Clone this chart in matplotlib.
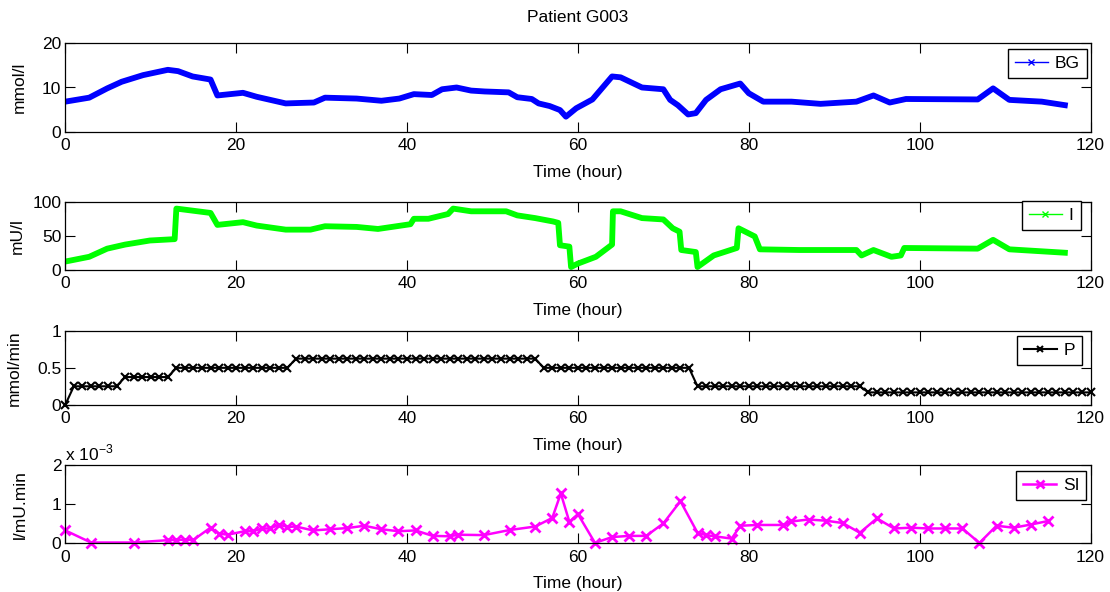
import matplotlib
matplotlib.use("Agg")
import matplotlib.pyplot as plt
from matplotlib.lines import Line2D

plt.rcParams["font.family"] = ["Liberation Sans", "DejaVu Sans"]
plt.rcParams["font.size"] = 12.5

# blood glucose (mmol/l)
bg_t = [0, 2.8, 4.9, 6.6, 9.1, 12.0, 13.2, 14.9, 17.0, 17.8, 20.8, 22.4, 25.8, 29.1,
        30.4, 34.1, 37.0, 39.1, 40.8, 42.9, 44.1, 45.8, 47.5, 49.1, 51.9, 52.9, 54.6,
        55.4, 56.7, 57.9, 58.6, 59.8, 61.7, 64.0, 65.0, 67.5, 70.0, 70.8, 71.7, 72.9,
        73.8, 75.0, 76.7, 79.0, 80.0, 81.7, 85.0, 88.4, 92.6, 94.6, 96.5, 98.4, 106.8,
        108.6, 110.5, 114.3, 117.0]
bg = [6.8, 7.7, 9.8, 11.3, 12.8, 14.0, 13.7, 12.5, 11.8, 8.2, 8.8, 7.9, 6.4, 6.6,
      7.7, 7.5, 7.0, 7.5, 8.5, 8.3, 9.6, 10.0, 9.3, 9.1, 8.9, 7.8, 7.4,
      6.4, 5.8, 4.9, 3.4, 5.3, 7.3, 12.5, 12.3, 10.0, 9.6, 7.2, 6.0, 3.9,
      4.2, 7.2, 9.6, 10.9, 8.7, 6.8, 6.8, 6.3, 6.8, 8.2, 6.6, 7.4, 7.3,
      9.8, 7.2, 6.8, 6.0]

# plasma insulin (mU/l)
ins_t = [0, 2.8, 4.9, 7.0, 9.9, 12.8, 13.0, 14.5, 17.0, 17.8, 20.8, 22.4, 25.8, 28.7,
         30.4, 34.1, 36.6, 40.4, 40.8, 42.5, 44.8, 45.4, 47.5, 51.6, 52.9, 55.0, 57.1,
         57.7, 57.9, 59.0, 59.2, 60.0, 62.1, 64.0, 64.1, 65.0, 67.5, 70.0, 71.1, 71.9,
         72.1, 73.8, 74.0, 75.9, 78.6, 78.8, 80.7, 81.3, 85.9, 92.6, 93.2, 94.6, 96.7,
         97.8, 98.2, 106.8, 108.6, 110.5, 117.0]
ins = [12, 19, 31, 37, 43, 45, 90, 87.6, 83.6, 66, 70, 65, 59, 59,
       64, 63, 60, 67, 75, 75, 82, 90, 86, 86, 80, 76, 71,
       69, 36, 34, 4, 9, 19, 37, 86, 86, 76, 74, 61, 56,
       29, 26, 4, 21, 32, 61, 49, 30, 29, 29, 21, 29, 19,
       21, 32, 31, 44, 30, 25]

# insulin infusion P (mmol/min), hourly
p_t = list(range(121))
p_rate = ([0.0] + [0.25] * 6 + [0.375] * 6 + [0.5] * 14 + [0.625] * 29
          + [0.5] * 18 + [0.25] * 20 + [0.167] * 27)

# insulin sensitivity SI (x 1e-3 l/mU.min)
si_t = [0, 3, 8, 12, 13, 14, 15, 17, 18, 19, 21, 22, 23, 24, 25, 26, 27, 29, 31, 33,
        35, 37, 39, 41, 43, 45, 46, 49, 52, 55, 57, 58, 59, 60, 62, 64, 66, 68, 70, 72,
        74, 75, 76, 78, 79, 81, 84, 85, 87, 89, 91, 93, 95, 97, 99, 101, 103, 105, 107,
        109, 111, 113, 115]
si = [0.33, 0.02, 0.02, 0.08, 0.09, 0.09, 0.09, 0.40, 0.25, 0.22, 0.31, 0.31, 0.38, 0.38,
      0.48, 0.42, 0.43, 0.33, 0.36, 0.39, 0.45, 0.36, 0.31, 0.33, 0.19, 0.18, 0.22, 0.21,
      0.34, 0.43, 0.65, 1.28, 0.55, 0.75, 0.01, 0.16, 0.19, 0.19, 0.51, 1.08, 0.27, 0.21,
      0.18, 0.12, 0.45, 0.47, 0.47, 0.56, 0.61, 0.58, 0.52, 0.27, 0.64, 0.38, 0.40, 0.38,
      0.38, 0.38, 0.01, 0.45, 0.40, 0.48, 0.57]

W, H = 1110, 592
fig = plt.figure(figsize=(W / 100, H / 100), dpi=100)

left, right = 65.3, 1090.5
rows = [(43.3, 131.7), (201.8, 269.7), (331.0, 404.7), (465.3, 543.3)]
axes = []
for top, bot in rows:
    ax = fig.add_axes([left / W, 1 - bot / H, (right - left) / W, (bot - top) / H])
    axes.append(ax)

blue, green, magenta = (0, 0, 1), (0, 1, 0), (1, 0, 1)

axes[0].plot(bg_t, bg, color=blue, lw=4.2, solid_joinstyle="round")
axes[1].plot(ins_t, ins, color=green, lw=4.2, solid_joinstyle="round")
axes[2].plot(p_t, p_rate, color="k", lw=1.5, marker="x", ms=5.5, mew=1.5, clip_on=False)
axes[3].plot(si_t, si, color=magenta, lw=1.8, marker="x", ms=6.5, mew=2, clip_on=False)

ylims = [(0, 20), (0, 100), (0, 1), (0, 2)]
yticks = [[0, 10, 20], [0, 50, 100], [0, 0.5, 1], [0, 1, 2]]
ylabels = ["mmol/l", "mU/l", "mmol/min", "l/mU.min"]
ylab_x = [27, 24.3, 22, 28]
for ax, yl, yt, lab, lx in zip(axes, ylims, yticks, ylabels, ylab_x):
    ax.set_xlim(0, 120)
    ax.set_xticks(range(0, 121, 20))
    ax.set_ylim(*yl)
    ax.set_yticks(yt)
    ax.set_yticklabels(["%g" % v for v in yt])
    ax.tick_params(direction="in", top=True, right=True, length=7.5, width=0.8,
                   labelsize=12.5)
    ax.tick_params(axis="x", pad=4.5)
    ax.tick_params(axis="y", pad=2.8)
    for s in ax.spines.values():
        s.set_linewidth(0.9)
    ax.set_xlabel("Time (hour)", labelpad=8.5)
    ax.set_ylabel(lab)
    ax.yaxis.set_label_coords((lx - left) / (right - left), 0.5)

# legends
leg_info = [("BG", blue, 1.0, 4, 1, 1086.7, 49.0),
            ("I", green, 1.0, 4, 1, 1080.5, 200.7),
            ("P", "k", 1.5, 5, 1.5, 1082.0, 336.0),
            ("SI", magenta, 1.8, 6, 2, 1086.4, 471.0)]
for ax, (lab, c, lw, ms, mew, rx, ty) in zip(axes, leg_info):
    h = Line2D([], [], color=c, lw=lw, marker="x", ms=ms, mew=mew)
    leg = ax.legend([h], [lab], loc="upper right", bbox_to_anchor=(rx / W, 1 - ty / H),
                    bbox_transform=fig.transFigure, borderaxespad=0, fancybox=False,
                    edgecolor="k", framealpha=1, handlelength=1.9, handletextpad=0.4,
                    borderpad=0.4, fontsize=12.5)
    leg.get_frame().set_linewidth(1.0)

fig.text(578 / W, 1 - 17.5 / H, "Patient G003", ha="center", va="center", fontsize=12.5)
fig.text(65 / W, 1 - 460 / H, r"x 10$^{\mathregular{-3}}$", ha="left", va="baseline",
         fontsize=12.5)

fig.savefig("out.png", dpi=100)
